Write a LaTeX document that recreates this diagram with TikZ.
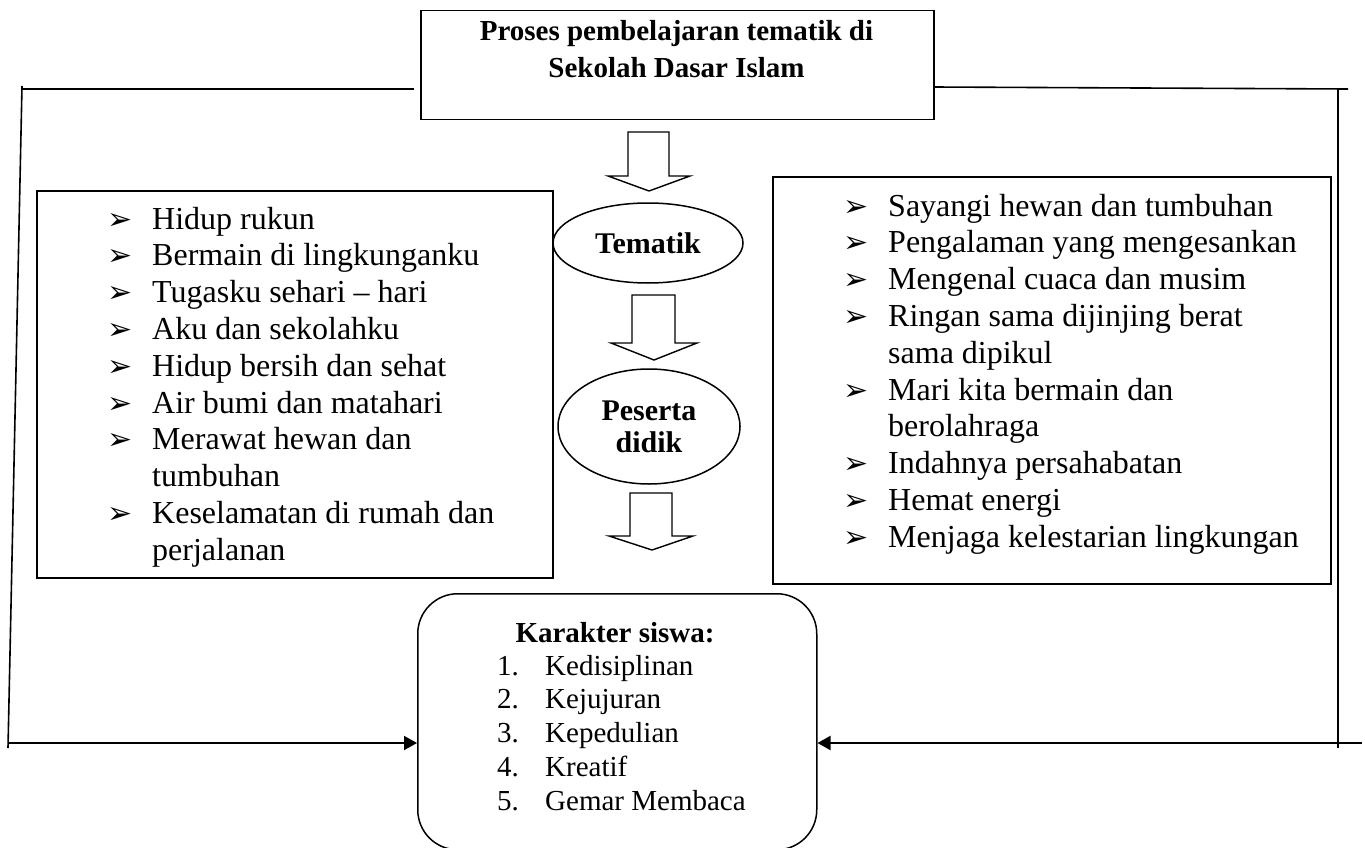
\documentclass[tikz,border=0pt]{standalone}
\usepackage{fontspec}
\setmainfont{Liberation Serif}
\newfontfamily\dejavu{DejaVu Sans}
\usetikzlibrary{arrows.meta,shapes.geometric,calc}
\newcommand\blt{\makebox[45pt][l]{\dejavu\fontsize{30}{30}\selectfont ➢}}
\newcommand\nmb[1]{\makebox[48pt][l]{#1}}
\begin{document}
\begin{tikzpicture}[x=1pt,y=-1pt,
  box/.style={draw,line width=1.5pt,inner sep=0pt,anchor=north west},
  ln/.style={line width=1.6pt},
  arr/.style={line width=2pt,-{Triangle[length=13pt,width=14pt]}},
  blk/.style={draw,line width=1.4pt,fill=white,line join=miter},
  listtxt/.style={inner sep=0pt,anchor=base west,font=\fontsize{32}{36.8}\selectfont},
  oval/.style={draw,ellipse,line width=1.5pt,inner sep=0pt,align=center,font=\bfseries\fontsize{30}{32}\selectfont},
]
\useasboundingbox (0,0) rectangle (1365,848);

% boxes
\node[box,minimum width=513pt,minimum height=109pt] (title) at (420,10) {};
\node[inner sep=0pt,anchor=base,font=\bfseries\fontsize{29}{36.5}\selectfont] (titletext) at (676.5,41)
  {\begin{tabular}[t]{@{}c@{}}Proses pembelajaran tematik di\\Sekolah Dasar Islam\end{tabular}};
\node[box,minimum width=516pt,minimum height=387pt] (lbox) at (36,190) {};
\node[box,minimum width=558pt,minimum height=407pt] (rbox) at (772,176) {};
\node[box,rounded corners=40pt,minimum width=399pt,minimum height=256pt] (kar) at (417,593) {};

% ellipses
\node[oval,minimum width=190pt,minimum height=80pt] (tem) at (648,243) {Tematik};
\node[oval,minimum width=182pt,minimum height=115pt] (pes) at (649,426.5) {Peserta\\didik};

% block arrows
\draw[blk] (628,132) -- (669,132) -- (669,176) -- (690,176) -- (649,191) -- (608,176) -- (628,176) -- cycle;
\draw[blk] (632,295) -- (675,295) -- (675,343) -- (697,343) -- (654,360) -- (611,343) -- (632,343) -- cycle;
\draw[blk] (630,493) -- (672,493) -- (672,536) -- (693,536) -- (652,550) -- (609,536) -- (630,536) -- cycle;

% lists
\node[listtxt] (llist) at (107,229) {\begin{tabular}[t]{@{}l@{}l@{}}
\blt & Hidup rukun\\
\blt & Bermain di lingkunganku\\
\blt & Tugasku sehari -- hari\\
\blt & Aku dan sekolahku\\
\blt & Hidup bersih dan sehat\\
\blt & Air bumi dan matahari\\
\blt & Merawat hewan dan\\
 & tumbuhan\\
\blt & Keselamatan di rumah dan\\
 & perjalanan
\end{tabular}};
\node[listtxt] (rlist) at (843,216) {\begin{tabular}[t]{@{}l@{}l@{}}
\blt & Sayangi hewan dan tumbuhan\\
\blt & Pengalaman yang mengesankan\\
\blt & Mengenal cuaca dan musim\\
\blt & Ringan sama dijinjing berat\\
 & sama dipikul\\
\blt & Mari kita bermain dan\\
 & berolahraga\\
\blt & Indahnya persahabatan\\
\blt & Hemat energi\\
\blt & Menjaga kelestarian lingkungan
\end{tabular}};

\node[inner sep=0pt,anchor=base,font=\bfseries\fontsize{29}{33}\selectfont] (khead) at (615,642) {Karakter siswa:};
\node[inner sep=0pt,anchor=base west,font=\fontsize{29}{33.75}\selectfont] (klist) at (497,675) {\begin{tabular}[t]{@{}l@{}l@{}}
\nmb{1.} & Kedisiplinan\\
\nmb{2.} & Kejujuran\\
\nmb{3.} & Kepedulian\\
\nmb{4.} & Kreatif\\
\nmb{5.} & Gemar Membaca
\end{tabular}};

% frame lines
\coordinate (ltop) at (22,89);
\coordinate (lgap) at (414,89);
\coordinate (lbot) at (8,748);
\coordinate (lfoot) at (8,743);
\coordinate (rstart) at (933,87);
\coordinate (rend) at (1348,89);
\coordinate (rtop) at (1338,89);
\coordinate (rbot) at (1338,748);
\coordinate (rfoot) at (1362,743);

\draw[ln] (lgap) -- (ltop);
\draw[ln] (22,86) -- (lbot);
\draw[ln] (rstart) -- (rend);
\draw[ln] (rtop) -- (rbot);
\draw[arr] (lfoot) -- (lfoot -| kar.west);
\draw[arr] (rfoot) -- (rfoot -| kar.east);
\end{tikzpicture}
\end{document}
